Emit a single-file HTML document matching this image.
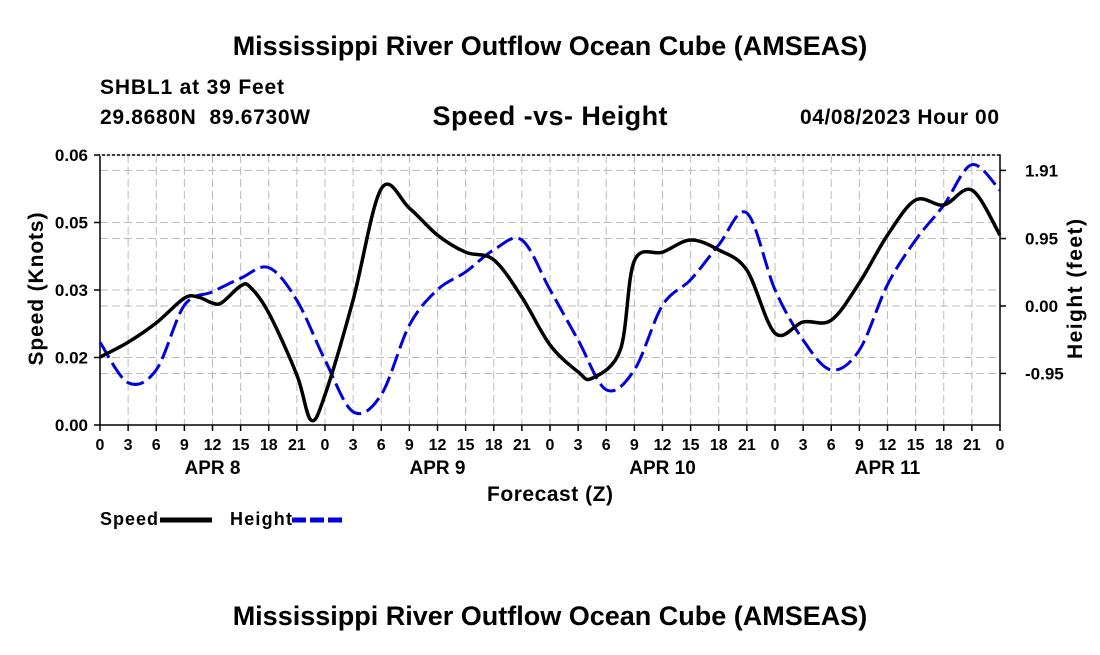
<!DOCTYPE html>
<html><head><meta charset="utf-8"><style>
body{margin:0;background:#fff;width:1100px;height:650px;overflow:hidden}
svg text{font-family:"Liberation Sans",sans-serif;font-weight:bold;fill:#000}
</style></head><body>
<svg width="1100" height="650">
<text x="550" y="55" font-size="27" text-anchor="middle">Mississippi River Outflow Ocean Cube (AMSEAS)</text>
<text x="100" y="94" font-size="21" textLength="184">SHBL1 at 39 Feet</text>
<text x="100" y="124" font-size="21" textLength="210" xml:space="preserve">29.8680N  89.6730W</text>
<text x="550" y="125" font-size="27" text-anchor="middle" textLength="235">Speed -vs- Height</text>
<text x="999" y="124" font-size="21" text-anchor="end" textLength="199">04/08/2023 Hour 00</text>
<g id="grid"></g>
<g id="axes"></g>
<g id="series"></g>
<text x="550" y="501" font-size="21" text-anchor="middle" textLength="126">Forecast (Z)</text>
<text transform="translate(43,289) rotate(-90)" font-size="21" text-anchor="middle" textLength="153">Speed (Knots)</text>
<text transform="translate(1082,289) rotate(-90)" font-size="21" text-anchor="middle" textLength="140">Height (feet)</text>
<g><text x="100" y="525" font-size="18" textLength="58">Speed</text><line x1="160" y1="520" x2="212" y2="520" stroke="#000" stroke-width="5"/></g>
<g><text x="230" y="525" font-size="18" textLength="62">Height</text><line x1="292" y1="520" x2="342" y2="520" stroke="#0000dd" stroke-width="5" stroke-dasharray="14,4"/></g>
<text x="550" y="625" font-size="27" text-anchor="middle">Mississippi River Outflow Ocean Cube (AMSEAS)</text>
</svg>
<script>
const speedHours=[0,3,6,9,10.5,12,13,15,16,18,21,22.5,24,27,30,33,36,39,42,45,48,51,52.5,55.5,57,60,63,66,69,72,75,78,81,84,87,90,93,96];
const speedVals=[0.0151,0.0184,0.0227,0.0282,0.0284,0.0271,0.0272,0.0309,0.0307,0.0249,0.0111,0.0011,0.0067,0.0278,0.0525,0.0482,0.0422,0.0384,0.0367,0.0284,0.0178,0.0118,0.0104,0.0167,0.0365,0.0384,0.0411,0.0389,0.0344,0.0204,0.0229,0.0233,0.0316,0.0422,0.0500,0.0489,0.0522,0.0422];
const heightHours=[0,3,6,9,12,15,18,21,24,27,30,33,36,39,42,45,48,51,54,57,60,63,66,69,72,75,78,81,84,87,90,93,96];
const heightVals=[-0.51,-1.08,-0.90,0.01,0.20,0.39,0.54,0.08,-0.76,-1.49,-1.25,-0.27,0.23,0.48,0.79,0.93,0.23,-0.48,-1.18,-0.90,0.01,0.37,0.86,1.31,0.23,-0.48,-0.90,-0.62,0.30,0.93,1.42,1.99,1.63];
const leftTicks=[0,0.015,0.03,0.045,0.06];
const leftLabels=["0.00","0.02","0.03","0.05","0.06"];
const rightTicks=[-0.95,0,0.95,1.91];
const rightLabels=["-0.95","0.00","0.95","1.91"];
const dayLabels=["APR 8","APR 9","APR 10","APR 11"];
const X0=100,X1=1000,YT=155,YB=425;
const xs=h=>X0+(X1-X0)*h/96;
const ysL=v=>YB-(YB-YT)*v/0.06;
const ysR=v=>306-v*71;
const NS="http://www.w3.org/2000/svg";
function mk(t,a,p){const e=document.createElementNS(NS,t);for(const k in a)e.setAttribute(k,a[k]);p.appendChild(e);return e;}
const grid=document.getElementById('grid'),axes=document.getElementById('axes'),series=document.getElementById('series');
for(let h=0;h<=96;h+=3){const x=xs(h);
 const g=mk('line',{x1:x,x2:x,y1:YT,y2:YB,stroke:'#bbb','stroke-dasharray':'8,4'},grid);
 
 mk('line',{x1:x,x2:x,y1:YB,y2:YB+6,stroke:'#000','stroke-width':1.5},axes);
 const t=mk('text',{x:x,y:YB+25,'font-size':16,'text-anchor':'middle'},axes);t.textContent=String(h%24);
 }
dayLabels.forEach((d,i)=>{const t=mk('text',{x:xs(i*24+12),y:YB+49,'font-size':19,'text-anchor':'middle'},axes);t.textContent=d;
 });
leftTicks.forEach((v,i)=>{const y=ysL(v);
 if(i>0&&i<leftTicks.length-1){const g=mk('line',{x1:X0,x2:X1,y1:y,y2:y,stroke:'#bbb','stroke-dasharray':'8,4'},grid);}
 mk('line',{x1:X0-6,x2:X0,y1:y,y2:y,stroke:'#000','stroke-width':1.5},axes);
 const t=mk('text',{x:X0-12,y:y+6,'font-size':17,'text-anchor':'end'},axes);t.textContent=leftLabels[i];
 });
rightTicks.forEach((v,i)=>{const y=ysR(v);
 const g=mk('line',{x1:X0,x2:X1,y1:y,y2:y,stroke:'#bbb','stroke-dasharray':'8,4'},grid);
 mk('line',{x1:X1,x2:X1+6,y1:y,y2:y,stroke:'#000','stroke-width':1.5},axes);
 const t=mk('text',{x:X1+25,y:y+6,'font-size':17},axes);t.textContent=rightLabels[i];
 });
mk('rect',{x:X0,y:YT,width:X1-X0,height:YB-YT,fill:'none',stroke:'#000','stroke-width':1.5},axes);
mk('line',{x1:X0,x2:X1,y1:YT,y2:YT,stroke:'#fff','stroke-width':1.5,'stroke-dasharray':'2,3'},axes);
function path(pts){let d=`M${pts[0][0]},${pts[0][1]}`;
 for(let i=0;i<pts.length-1;i++){const p0=pts[Math.max(0,i-1)],p1=pts[i],p2=pts[i+1],p3=pts[Math.min(pts.length-1,i+2)];
  const c1=[p1[0]+(p2[0]-p0[0])/6,p1[1]+(p2[1]-p0[1])/6],c2=[p2[0]-(p3[0]-p1[0])/6,p2[1]-(p3[1]-p1[1])/6];
  d+=` C${c1[0]},${c1[1]} ${c2[0]},${c2[1]} ${p2[0]},${p2[1]}`;}return d;}
const hp=mk('path',{d:path(heightHours.map((h,i)=>[xs(h),ysR(heightVals[i])])),fill:'none',stroke:'#0000dd','stroke-width':3,'stroke-dasharray':'18,6'},series);

const sp=mk('path',{d:path(speedHours.map((h,i)=>[xs(h),ysL(speedVals[i])])),fill:'none',stroke:'#000','stroke-width':3.5},series);

</script>
</body></html>
